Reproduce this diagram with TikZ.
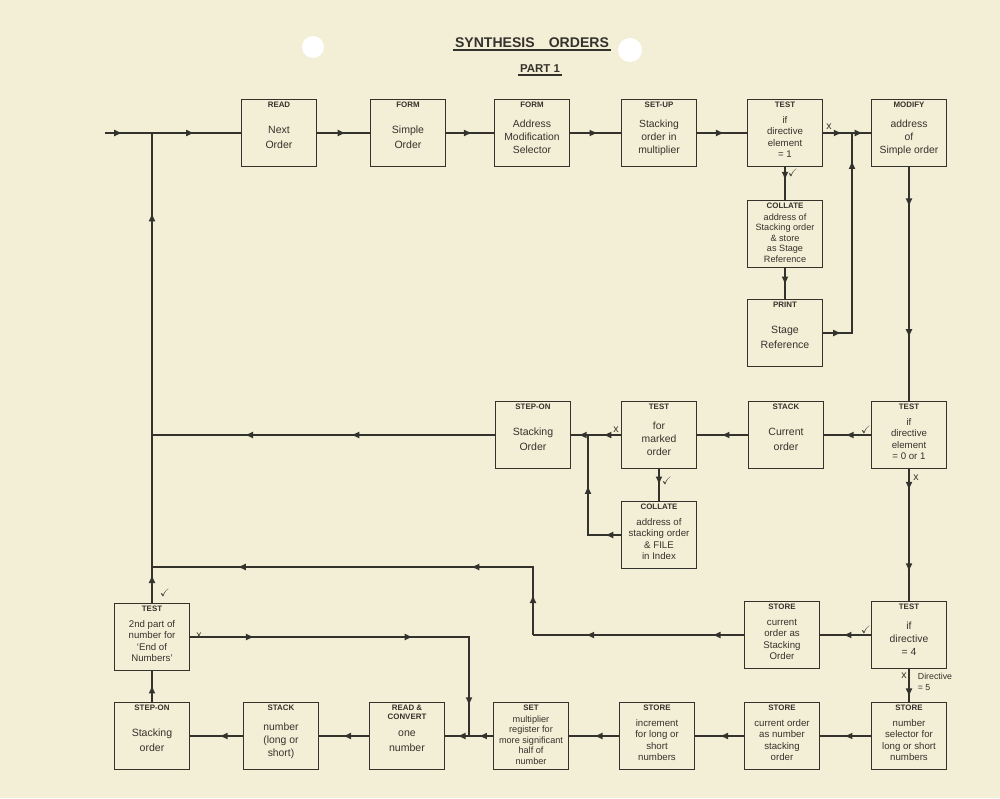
\documentclass[tikz,border=0pt]{standalone}
\usepackage{amssymb}
\usepackage{fontspec}
\setmainfont{Liberation Sans}
\usetikzlibrary{arrows.meta,decorations.markings,positioning}
\definecolor{cPaper}{RGB}{243,239,214}
\definecolor{cInk}{RGB}{52,50,44}
\tikzset{
  box/.style={draw=cInk, line width=0.9pt, minimum width=1.5cm, minimum height=1.34cm,
              inner sep=1pt, text=cInk, font=\fontsize{6}{8.5}\selectfont,
              label={[hdr]north:#1}},
  hdr/.style={anchor=north, inner sep=1.6pt, align=center, text=cInk,
              font=\fontsize{4.5}{5}\selectfont\bfseries},
  three/.style={font=\fontsize{5.9}{7.4}\selectfont},
  tight/.style={font=\fontsize{5.5}{6.5}\selectfont},
  tighter/.style={font=\fontsize{5.2}{6}\selectfont},
  ln/.style={color=cInk, line width=0.9pt},
  ma/.style={postaction={decorate, decoration={markings,
             mark=at position #1 with {\arrow{Latex[length=1.7mm,width=1.4mm]}}}}},
  lbl/.style={font=\fontsize{6}{7}\selectfont, text=cInk, inner sep=0.5pt},
  ttl/.style={font=\fontsize{8}{9}\selectfont\bfseries, text=cInk, inner sep=1pt},
}
% body text of a box, pushed below the box heading
\newcommand{\bd}[1]{\raisebox{0pt}[\dimexpr\height+6pt\relax][\depth]{%
  \begin{tabular}{@{}c@{}}#1\end{tabular}}}

\begin{document}
\begin{tikzpicture}[x=0.02cm, y=-0.02cm]
  \fill[cPaper] (0,0) rectangle (1000,798);
  \useasboundingbox (0,0) rectangle (1000,798);
  % punched holes
  \fill[white] (313,47) circle[radius=11];
  \fill[white] (630,50) circle[radius=12];

  % heading
  \node[ttl] (title) at (532,43) {SYNTHESIS\quad ORDERS};
  \draw[ln, line width=1.6pt] (title.south west) -- (title.south east);
  \node[ttl, font=\fontsize{6.5}{8}\selectfont\bfseries] (part) at (540,69) {PART 1};
  \draw[ln, line width=1.1pt] (part.south west) -- (part.south east);

  % top row
  \node[box=READ]   (read)    at (279,133) {\bd{Next\\Order}};
  \node[box=FORM]   (formso)  at (408,133) {\bd{Simple\\Order}};
  \node[box=FORM, three] (formams) at (532,133) {\bd{Address\\Modification\\Selector}};
  \node[box=SET-UP, three] (setup) at (659,133) {\bd{Stacking\\order in\\multiplier}};
  \node[box=TEST, tight] (testone) at (785,133) {\bd{if\\directive\\element\\= 1}};
  \node[box=MODIFY, three] (modify) at (909,133) {\bd{address\\of\\Simple order}};
  \node[box=COLLATE, tighter] (collate1) at (785,234) {\bd{address of\\Stacking order\\\& store\\as Stage\\Reference}};
  \node[box=PRINT]  (print)   at (785,333) {\bd{Stage\\Reference}};

  % middle row
  \node[box=STEP-ON] (stepon)   at (533,435) {\bd{Stacking\\Order}};
  \node[box=TEST, three] (testmk) at (659,435) {\bd{for\\marked\\order}};
  \node[box=STACK]   (stackcur) at (786,435) {\bd{Current\\order}};
  \node[box=TEST, tight] (testdir) at (909,435) {\bd{if\\directive\\element\\= 0 or 1}};
  \node[box=COLLATE, tight] (collate2) at (659,535) {\bd{address of\\stacking order\\\& FILE\\in Index}};

  % lower row
  \node[box=TEST, tight] (testend)  at (152,637) {\bd{2nd part of\\number for\\`End of\\Numbers'}};
  \node[box=STORE, tight] (storeso) at (782,635) {\bd{current\\order as\\Stacking\\Order}};
  \node[box=TEST, three] (testfour) at (909,635) {\bd{if\\directive\\= 4}};

  % bottom row
  \node[box=STEP-ON] (steponb)  at (152,736) {\bd{Stacking\\order}};
  \node[box=STACK, three] (stacknum) at (281,736) {\bd{number\\(long or\\short)}};
  \node[box={READ \&\\CONVERT}] (readconv) at (407,736) {\bd{one\\number}};
  \node[box=SET, tighter] (setmult) at (531,736) {\bd{multiplier\\register for\\more significant\\half of\\number}};
  \node[box=STORE, tight] (storeinc) at (657,736) {\bd{increment\\for long or\\short\\numbers}};
  \node[box=STORE, tight] (storecur) at (782,736) {\bd{current order\\as number\\stacking\\order}};
  \node[box=STORE, tight] (storesel) at (909,736) {\bd{number\\selector for\\long or short\\numbers}};

  % junctions
  \coordinate (entry) at (105,133);
  \coordinate (jtop)  at (152,133);
  \coordinate (jmod)  at (852,133);
  \coordinate (jmk)   at (588,435);
  \coordinate (jmid)  at (152,435);
  \coordinate (jlow)  at (152,567);
  \coordinate (jst)   at (533,635);
  \coordinate (jrc)   at (469,736);

  % top connectors
  \draw[ln, ma=0.13, ma=0.66] (entry) -- (read);
  \draw[ln, ma=0.55] (read) -- (formso);
  \draw[ln, ma=0.55] (formso) -- (formams);
  \draw[ln, ma=0.55] (formams) -- (setup);
  \draw[ln, ma=0.55] (setup) -- (testone);
  \draw[ln, ma=0.4, ma=0.84] (testone) -- (modify);
  \draw[ln, ma=0.4] (testone) -- (collate1);
  \draw[ln, ma=0.55] (collate1) -- (print);
  \draw[ln, ma=0.08, ma=0.88] (print.east) -| (jmod);
  \draw[ln, ma=0.17, ma=0.73] (modify) -- (testdir);

  % middle connectors
  \draw[ln, ma=0.55] (testdir) -- (stackcur);
  \draw[ln, ma=0.53] (stackcur) -- (testmk);
  \draw[ln, ma=0.36, ma=0.86] (testmk) -- (stepon);
  \draw[ln, ma=0.5] (testmk) -- (collate2);
  \draw[ln, ma=0.12, ma=0.62] (collate2.west) -| (jmk);
  \draw[ln, ma=0.42, ma=0.73] (stepon) -- (jmid);
  \draw[ln, ma=0.06, ma=0.83] (testend) -- (jtop);
  \draw[ln, ma=0.16, ma=0.78] (testdir) -- (testfour);

  % lower connectors
  \draw[ln, ma=0.55] (testfour) -- (storeso);
  \draw[ln, ma=0.15, ma=0.75] (storeso) -- (jst);
  \draw[ln, ma=0.09, ma=0.29, ma=0.81] (jst) |- (jlow);
  \draw[ln, ma=0.17, ma=0.59, ma=0.92] (testend.east) -| (jrc);

  % bottom connectors
  \draw[ln, ma=0.85] (testfour) -- (storesel);
  \draw[ln, ma=0.53] (storesel) -- (storecur);
  \draw[ln, ma=0.5] (storecur) -- (storeinc);
  \draw[ln, ma=0.5] (storeinc) -- (setmult);
  \draw[ln, ma=0.3, ma=0.75] (setmult) -- (readconv);
  \draw[ln, ma=0.53] (readconv) -- (stacknum);
  \draw[ln, ma=0.45] (stacknum) -- (steponb);
  \draw[ln, ma=0.55] (steponb) -- (testend);

  % branch marks
  \node[lbl] (xone)   at (829,127) {x};
  \node[lbl] (tone)   at (793,173) {$\checkmark$};
  \node[lbl] (tdir)   at (866,430) {$\checkmark$};
  \node[lbl] (xdir)   at (916,478) {x};
  \node[lbl] (xmk)    at (616,430) {x};
  \node[lbl] (tmk)    at (667,481) {$\checkmark$};
  \node[lbl] (tfour)  at (866,630) {$\checkmark$};
  \node[lbl] (xfour)  at (904,676) {x};
  \node[lbl, align=left, font=\fontsize{5}{6}\selectfont] (dfive) at (935,682) {Directive\\= 5};
  \node[lbl] (tend)   at (165,593) {$\checkmark$};
  \node[lbl] (xend)   at (199,636) {x};
\end{tikzpicture}
\end{document}
